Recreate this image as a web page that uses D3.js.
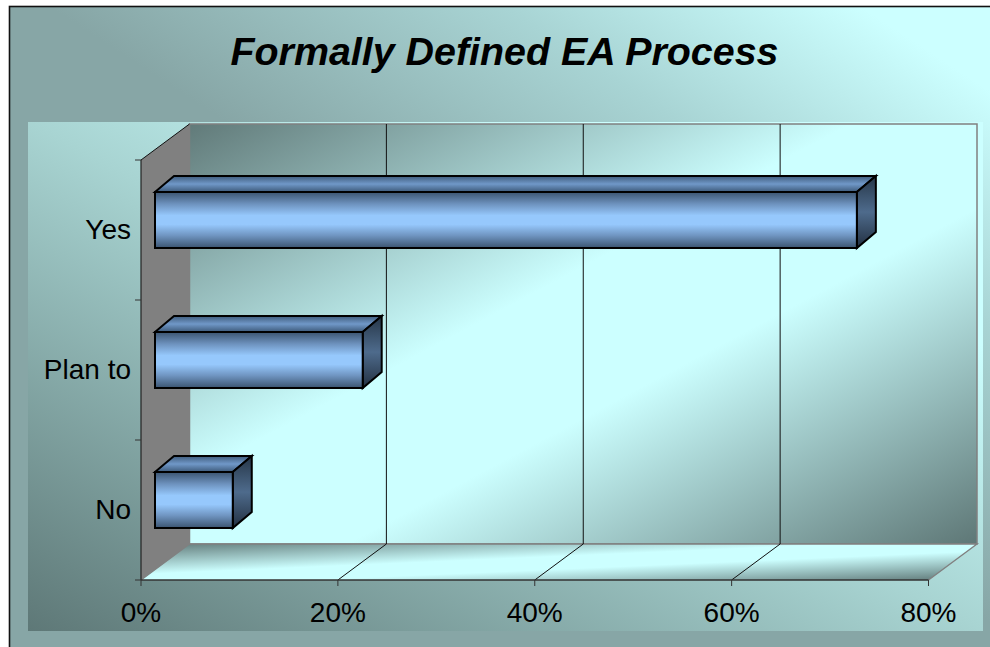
<!DOCTYPE html>
<html><head><meta charset="utf-8">
<script src="https://cdn.jsdelivr.net/npm/d3@7"></script>
<style>html,body{margin:0;padding:0;background:#fff}svg{display:block}text{font-family:"Liberation Sans",Arial,sans-serif;fill:#000}</style>
</head><body><div id="c"></div>
<script>
const categories=["Yes","Plan to","No"];
const seriesValues=[71.3,21.1,7.9];
const xTicks=[0,20,40,60,80];
const titleText="Formally Defined EA Process";

const W=990,H=647;
const svg=d3.select("#c").append("svg").attr("width",W).attr("height",H);
const defs=svg.append("defs");
function grad(id,coords,stops){
  const g=defs.append("linearGradient").attr("id",id)
    .attr("x1",coords[0]).attr("y1",coords[1]).attr("x2",coords[2]).attr("y2",coords[3]);
  stops.forEach(s=>g.append("stop").attr("offset",s[0]).attr("stop-color",s[1]));
}
grad("gOuter",[0,1,1,0],[[0,"#87a6a6"],[0.52,"#87a6a6"],[0.75,"#a8d4d4"],[0.93,"#ccffff"],[1,"#ccffff"]]);
grad("gPlot",[0,1,1,0],[[0,"#5e7877"],[0.5,"#a8d4d2"],[0.78,"#ccffff"],[1,"#ccffff"]]);
const diag=[[0,"#617a79"],[0.42,"#ccffff"],[0.6,"#ccffff"],[1,"#5e7776"]];
grad("gWall",[0,0,1,1],diag);
grad("gFloor",[0,0,1,1],diag);
grad("gFace",[0,0,0,1],[[0,"#3b5470"],[0.22,"#6f94c0"],[0.42,"#96c8fc"],[0.58,"#96c8fc"],[0.78,"#6f94c0"],[1,"#3b5470"]]);
grad("gTop",[0,0,0,1],[[0,"#3f5c7c"],[0.5,"#7098c8"],[1,"#3d5a7a"]]);
grad("gSide",[0,0,0,1],[[0,"#263648"],[0.5,"#4e6b8c"],[1,"#222f40"]]);

svg.append("rect").attr("x",9.5).attr("y",6.5).attr("width",W).attr("height",H).attr("fill","url(#gOuter)").attr("stroke","#111").attr("stroke-width",1.6);
svg.append("rect").attr("x",28).attr("y",122).attr("width",955).attr("height",509).attr("fill","url(#gPlot)");

const x=d3.scaleLinear().domain([0,80]).range([141,928.5]);
const y=d3.scaleBand().domain(categories).range([160,580]);
const dx=48.5,dy=-36;
const line=d3.line();

// walls
const y0=580,yT=160;
svg.append("path").attr("d",line([[x(0),yT],[x(0)+dx,yT+dy],[x(0)+dx,y0+dy],[x(0),y0]])+"Z").attr("fill","#808080");
svg.append("rect").attr("x",x(0)+dx).attr("y",yT+dy).attr("width",x(80)-x(0)).attr("height",y0-yT).attr("fill","url(#gWall)").attr("stroke","#808080").attr("stroke-width",1.5);
svg.append("path").attr("d",line([[x(0),y0],[x(0)+dx,y0+dy],[x(80)+dx,y0+dy],[x(80),y0]])+"Z").attr("fill","url(#gFloor)");
svg.append("path").attr("d",line([[x(0),y0],[x(0)+dx,y0+dy],[x(80)+dx,y0+dy],[x(80),y0]])).attr("fill","none").attr("stroke","#808080").attr("stroke-width",1.4);

// gridlines
xTicks.slice(1,4).forEach(t=>{
  svg.append("path").attr("d",line([[x(t),y0],[x(t)+dx,y0+dy],[x(t)+dx,yT+dy]])).attr("fill","none").attr("stroke","#111").attr("stroke-width",1);
});

// axes
svg.append("path").attr("d",line([[x(0),yT],[x(0)+dx,yT+dy]])).attr("stroke","#111").attr("fill","none");
svg.append("path").attr("d",line([[x(0),yT],[x(0),y0]])).attr("stroke","#222").attr("stroke-width",1.2).attr("fill","none");
svg.append("path").attr("d",line([[x(0),y0],[x(80),y0]])).attr("stroke","#333").attr("stroke-width",1.4).attr("fill","none");
[...categories.map(c=>y(c)),y0].forEach(v=>{
  svg.append("line").attr("x1",x(0)-6).attr("x2",x(0)).attr("y1",v).attr("y2",v).attr("stroke","#333");
});
xTicks.forEach(t=>{
  svg.append("line").attr("x1",x(t)).attr("x2",x(t)).attr("y1",y0).attr("y2",y0+6).attr("stroke","#333");
  svg.append("text").attr("x",x(t)).attr("y",622).attr("text-anchor","middle").attr("font-size",28).text(t+"%");
});
categories.forEach(c=>{
  svg.append("text").attr("x",131).attr("y",y(c)+y.bandwidth()/2+9).attr("text-anchor","end").attr("font-size",28).text(c);
});

// bars
const barInset=14,barDx=19,barDy=-16,barH=56;
categories.forEach((c,i)=>{
  const l=x(0)+barInset, r=x(seriesValues[i])+barInset;
  const t=y(c)+y.bandwidth()/2-38, b=t+barH;
  const g=svg.append("g").attr("stroke","#000").attr("stroke-width",2).attr("stroke-linejoin","miter");
  g.append("path").attr("d",line([[l,t],[l+barDx,t+barDy],[r+barDx,t+barDy],[r,t]])+"Z").attr("fill","url(#gTop)");
  g.append("path").attr("d",line([[r,t],[r+barDx,t+barDy],[r+barDx,b+barDy],[r,b]])+"Z").attr("fill","url(#gSide)");
  g.append("rect").attr("x",l).attr("y",t).attr("width",r-l).attr("height",barH).attr("fill","url(#gFace)");
});

svg.append("text").attr("x",504.5).attr("y",65).attr("text-anchor","middle").attr("font-size",39.4).attr("font-weight","bold").attr("font-style","italic").text(titleText);
</script></body></html>
